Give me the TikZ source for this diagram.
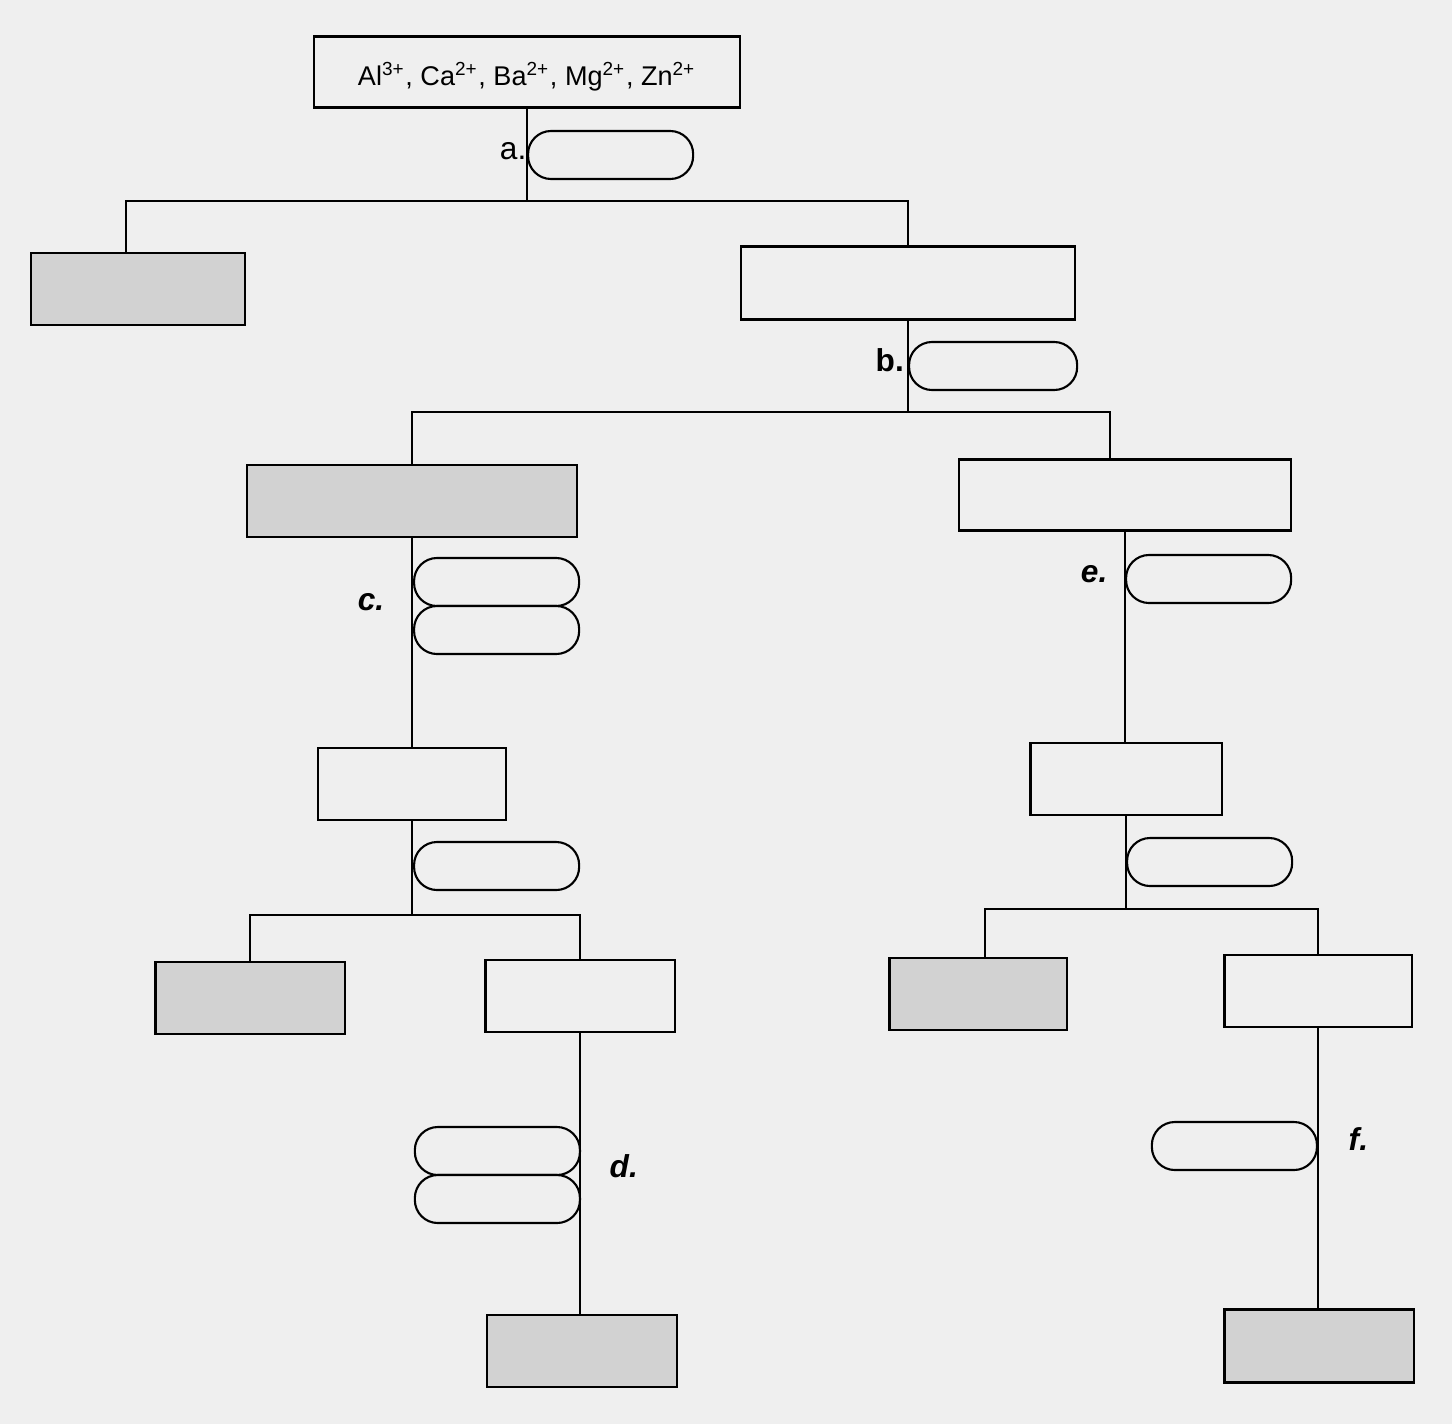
\documentclass[tikz,border=0pt]{standalone}
\usepackage{fontspec}
\setmainfont{Liberation Sans}
\usetikzlibrary{positioning}
\definecolor{paper}{HTML}{EFEFEF}
\definecolor{shade}{HTML}{D2D2D2}
\newcommand{\ion}[2]{#1\textsuperscript{#2}}
\tikzset{
  box/.style={draw, line width=0.6pt, inner sep=0pt, minimum height=0.72cm, fill=paper},
  dark/.style={box, fill=shade},
  pill/.style={draw, line width=0.6pt, inner sep=0pt, rounded corners=0.23cm,
    minimum width=1.65cm, minimum height=0.48cm, fill=paper},
  lbl/.style={inner sep=0pt, font=\fontsize{9}{10}\selectfont\bfseries\itshape},
  link/.style={line width=0.4pt}
}
\begin{document}
\begin{tikzpicture}[x=0.01cm, y=-0.01cm]
  \fill[paper] (0,0) rectangle (1452,1424);
  \useasboundingbox (0,0) rectangle (1452,1424);
  % first split
  \node[box, minimum width=4.25cm, minimum height=0.71cm] (ions) at (527,72) {};
  \node[inner sep=0pt, font=\fontsize{7.7}{9}\selectfont] at ([yshift=-0.05cm]ions.center)
    {\ion{Al}{3+}, \ion{Ca}{2+}, \ion{Ba}{2+}, \ion{Mg}{2+}, \ion{Zn}{2+}};
  \node[pill, anchor=west] (pa) at (527,155) {};
  \node[lbl, font=\fontsize{9}{10}\selectfont, left=0pt of pa, yshift=0.04cm] {a.};
  \node[dark, minimum width=2.14cm] (ppt1) at (138,289) {};
  \node[box, minimum width=3.34cm, minimum height=0.73cm] (sol1) at (908,283) {};
  \coordinate (j1) at (527,201);
  \coordinate (j1l) at (126,201);
  \coordinate (j1r) at (908,201);
  % second split
  \node[pill, anchor=west, minimum width=1.68cm] (pb) at (908,366) {};
  \node[lbl, font=\fontsize{9}{10}\selectfont\bfseries, left=1pt of pb, yshift=0.06cm] {b.};
  \node[dark, minimum width=3.30cm] (ppt2) at (412,501) {};
  \node[box, minimum width=3.32cm, minimum height=0.71cm] (sol2) at (1125,495) {};
  \coordinate (j2) at (908,412);
  \coordinate (j2l) at (412,412);
  \coordinate (j2r) at (1110,412);
  % left branch
  \node[pill, anchor=west] (pc1) at (413,582) {};
  \node[pill, anchor=west] (pc2) at (413,630) {};
  \node[lbl, left=0.28cm of pc1.south west, yshift=0.05cm] {c.};
  \node[box, minimum width=1.88cm] (sol3) at (412,784) {};
  \node[pill, anchor=west] (pl) at (413,866) {};
  \node[dark, minimum width=1.89cm] (ppt3) at (250,998) {};
  \node[box, minimum width=1.89cm] (sol4) at (580,996) {};
  \node[pill, anchor=east] (pd1) at (581,1151) {};
  \node[pill, anchor=east] (pd2) at (581,1199) {};
  \node[lbl, right=0.28cm of pd1.south east, yshift=0.1cm] {d.};
  \node[dark, minimum width=1.90cm] (ppt4) at (582,1351) {};
  \coordinate (j3) at (412,915);
  \coordinate (j3l) at (250,915);
  \coordinate (j3r) at (580,915);
  % right branch
  \node[pill, anchor=west] (pe) at (1125,579) {};
  \node[lbl, left=0.17cm of pe, yshift=0.05cm] {e.};
  \node[box, minimum width=1.91cm] (sol5) at (1126,779) {};
  \node[pill, anchor=west] (pr) at (1126,862) {};
  \node[dark, minimum width=1.77cm] (ppt5) at (978,994) {};
  \node[box, minimum width=1.87cm] (sol6) at (1318,991) {};
  \node[pill, anchor=east] (pf) at (1318,1146) {};
  \node[lbl, right=0.3cm of pf, yshift=0.07cm] {f.};
  \node[dark, minimum width=1.89cm, minimum height=0.73cm] (ppt6) at (1319,1346) {};
  \coordinate (j4) at (1126,909);
  \coordinate (j4l) at (985,909);
  \coordinate (j4r) at (1318,909);
  % connectors
  \draw[link] (ions) -- (j1);
  \draw[link] (j1l |- ppt1.north) -- (j1l) -- (j1r) -- (sol1);
  \draw[link] (sol1) -- (j2);
  \draw[link] (ppt2) -- (j2l) -- (j2r) -- (j2r |- sol2.north);
  \draw[link] (ppt2) -- (sol3);
  \draw[link] (sol3) -- (j3);
  \draw[link] (ppt3) -- (j3l) -- (j3r) -- (sol4);
  \draw[link] (sol4) -- (ppt4.north -| sol4);
  \draw[link] (sol2) -- (sol5.north -| sol2);
  \draw[link] (sol5) -- (j4);
  \draw[link] (j4l |- ppt5.north) -- (j4l) -- (j4r) -- (sol6);
  \draw[link] (sol6) -- (ppt6.north -| sol6);
\end{tikzpicture}
\end{document}
